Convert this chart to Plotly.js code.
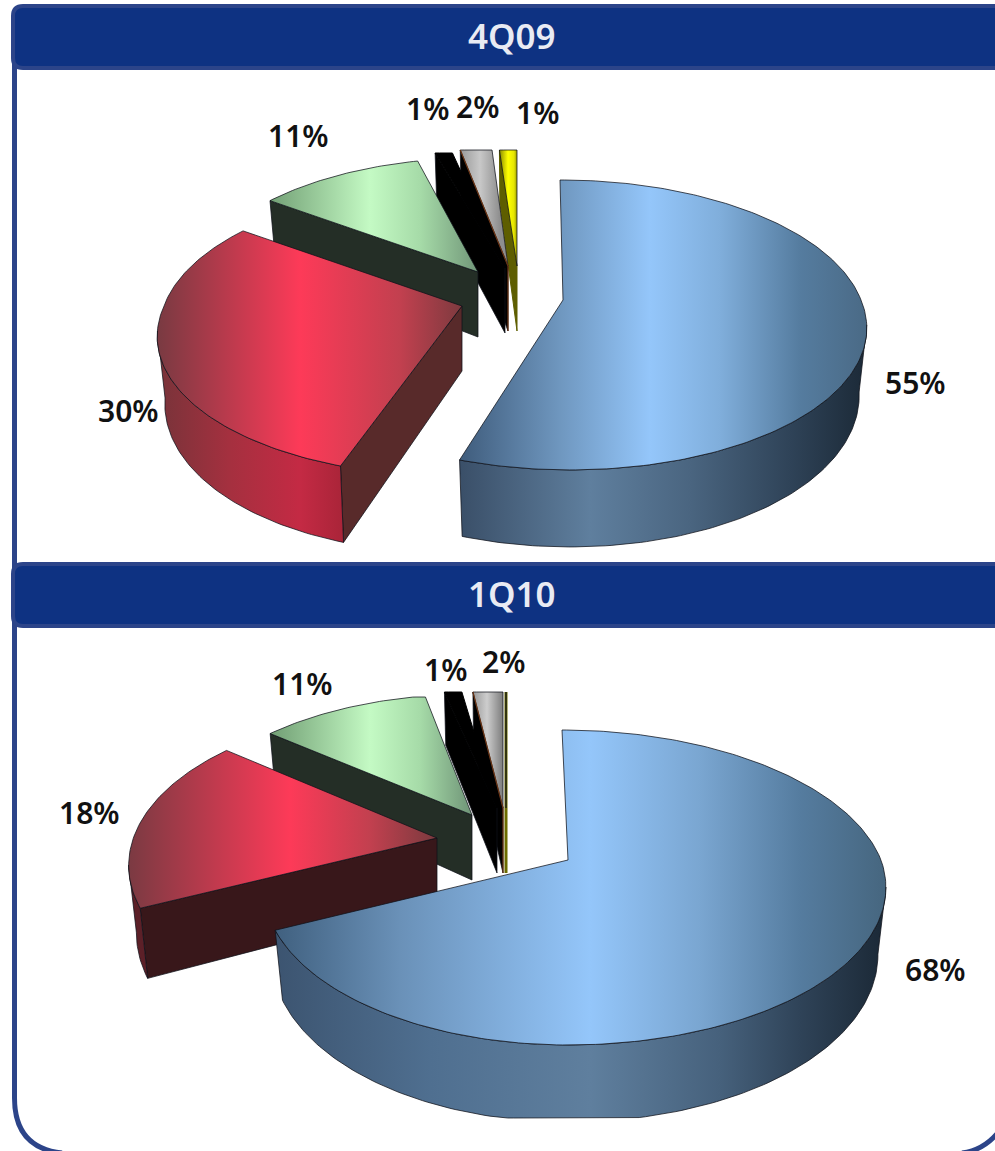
<!DOCTYPE html>
<html><head><meta charset="utf-8">
<script src="https://cdn.plot.ly/plotly-3.0.1.min.js"></script>
<style>html,body{margin:0;padding:0;background:#fff}#c{width:995px;height:1151px}</style>
</head><body><div id="c"></div>
<script>
// ---- data ----
const titles = ["4Q09", "1Q10"];
const values4Q09 = [55, 30, 11, 1, 2, 1];
const values1Q10 = [68, 18, 11, 1, 2, 0];

// ---- layout of the two drawings (pixel-like axis units) ----
const pie1 = {
  values: values4Q09, a: 298, b: 140.7, p: 0.172, yBottom: 2000,
  slices: [
    {apex:[563,300], r:1, top:180, skF:7, skB:3},
    {apex:[462,306], r:1, top:0, skF:-12},
    {apex:[478,272], r:.95, top:158},
    {apex:[505,268], r:1.1, top:153},
    {apex:[508,266], r:1, top:150},
    {apex:[517,266], r:1.1, top:150}
  ],
  labels: [[915,384],[128,412],[298,137],[427,110],[477,108],[537,114]],
  blueTop: [[460,'#3f5c7c'],[560,'#6f97bf'],[650,'#94c6fa'],[720,'#80aedb'],[800,'#557c9f'],[866,'#4a6a86']],
  blueWall:[[460,'#3a4f68'],[590,'#5f7f9e'],[690,'#4a6580'],[790,'#2f4358'],[865,'#1c2a38']],
  redTop:  [[160,'#7b3a42'],[300,'#fd3a58'],[400,'#c2404f'],[465,'#7a3a3e']],
  redWall: [[165,'#7c333a'],[230,'#a5303f'],[300,'#c42a44'],[345,'#a82438']],
  greenTop:[[265,'#6f9c72'],[370,'#c4fac4'],[420,'#a6dba8'],[480,'#6f9477']],
  grayTop: [[460,'#999999'],[480,'#c8c8c8'],[500,'#8e8e8e']],
  yellowTop:[[497,'#6b6b00'],[508,'#ffff00'],[514,'#e6e600'],[519,'#6b6b00']]
};
const pie2 = {
  values: values1Q10, a: 313, b: 152.7, p: 0.1746, yBottom: 1118,
  slices: [
    {apex:[568,860], r:1, top:730, xl:.957, skB:6},
    {apex:[437,838], r:1, top:0, xl:.97},
    {apex:[472,815], r:.93, top:697},
    {apex:[497,808], r:1.05, top:692},
    {apex:[503,808], r:.9, top:692},
    {apex:[506,808], r:1, top:692}
  ],
  labels: [[935,971],[89,814],[302,685],[445,671],[503,663]],
  blueTop: [[275,'#40607f'],[400,'#6a91b8'],[590,'#94c6fa'],[700,'#7aa6d1'],[800,'#557c9f'],[886,'#46667f']],
  blueWall:[[275,'#3c5470'],[430,'#4f6f90'],[590,'#5f7f9e'],[720,'#46617c'],[800,'#2f4358'],[880,'#1c2a38']],
  redTop:  [[128,'#7a3a42'],[290,'#fd3a58'],[370,'#c2404f'],[437,'#7a3a3e']],
  redWall: [[130,'#5c2028'],[150,'#5c2028']],
  greenTop:[[268,'#6f9c72'],[370,'#c4fac4'],[420,'#a6dba8'],[472,'#6f9477']],
  grayTop: [[470,'#8f8f8f'],[487,'#cdcdcd'],[504,'#777777']],
  yellowTop:[[504,'#7b7b00'],[508,'#7b7b00']]
};
const headerBars = [[6,68],[564,626]];
const headerColor = '#0e3282', frameColor = '#2c4489';
const wallColors = ['#000', '#582a2a', '#242e26', '#000', '#000', '#5e5e00'];
const wallColors2 = ['#000', '#38171a', '#242e26', '#000', '#000', '#6b6b00'];
const depthMid = 65, depthSlope = 12, bottomShrink = 0.975;
const edge = 'rgba(15,18,25,0.75)';

function grad(stops){
  const x0 = stops[0][0], x1 = stops[stops.length-1][0];
  return {type:'horizontal', start:x0, stop:x1,
          colorscale: stops.map(s => [(s[0]-x0)/(x1-x0), s[1]])};
}
function project(pie, s, thetaDeg){
  const t = thetaDeg*Math.PI/180;
  const u = Math.sin(t), v = -Math.cos(t), w = 1 - pie.p*v;
  const xl = u<0 && s.xl ? s.xl : 1;
  const sk = (v<0 ? (s.skB||0) : (s.skF||0))*v;
  return {x: s.apex[0] + xl*s.r*pie.a*u/w + sk, y: s.apex[1] + s.r*pie.b*v/w, v};
}
function lowX(s, x){ return s.apex[0] + (x-s.apex[0])*bottomShrink; }
function clampY(pie, s, y){ return Math.min(pie.yBottom, Math.max(s.top, y)); }
function arc(pie, s, a0, a1){
  const pts = [], n = Math.max(2, Math.ceil(Math.abs(a1-a0)));
  for(let i=0;i<=n;i++) pts.push(project(pie, s, a0+(a1-a0)*i/n));
  return pts;
}
function poly(xs, ys, extra){
  return Object.assign({type:'scatter', mode:'lines', x:xs, y:ys, fill:'toself',
    line:{color:edge, width:1}, hoverinfo:'skip'}, extra);
}
const SIL0 = 99.9, SIL1 = 260.1;

function drawPie(pie, walls){
  const out = [];
  const total = pie.values.reduce((a,b)=>a+b,0);
  let acc = 0;
  const ranges = pie.values.map(val => { const r=[acc/total*360,(acc+val)/total*360]; acc+=val; return r; });
  const tops = [pie.blueTop, pie.redTop, pie.greenTop, null, pie.grayTop, pie.yellowTop];
  for(let i=pie.values.length-1;i>=0;i--){
    const s = pie.slices[i], [a0,a1] = ranges[i];
    const dep = v => depthMid + depthSlope*v;
    const ap = s.apex;
    // radial wall at the slice's starting angle
    if(Math.sin(a0*Math.PI/180) < -1e-6 || (a0>=355)){
      const P = project(pie, s, a0);
      out.push(poly(
        [ap[0], P.x, lowX(s,P.x), ap[0], ap[0]],
        [ap[1], clampY(pie,s,P.y), clampY(pie,s,P.y)+dep(P.v), ap[1]+dep(0), ap[1]],
        {fillcolor: walls[i], line:{color:i===5?walls[i]:edge, width:i===5&&pie.values[i]===0?3:1}}));
    }
    // outer curved wall
    const w0 = Math.max(a0,SIL0), w1 = Math.min(a1,SIL1);
    if(w1 > w0){
      const pts = arc(pie, s, w0, w1);
      const xs = pts.map(p=>p.x).concat(pts.slice().reverse().map(p=>lowX(s,p.x)));
      const ys = pts.map(p=>clampY(pie,s,p.y)).concat(
        pts.slice().reverse().map(p=>clampY(pie,s,p.y+dep(p.v))));
      xs.push(xs[0]); ys.push(ys[0]);
      out.push(poly(xs, ys, {fillgradient: grad(i===0?pie.blueWall:pie.redWall)}));
    }
    // top face
    const pts = arc(pie, s, a0, a1);
    const xs = [ap[0]].concat(pts.map(p=>p.x), [ap[0]]);
    const ys = [ap[1]].concat(pts.map(p=>clampY(pie,s,p.y)), [ap[1]]);
    if(tops[i]) out.push(poly(xs, ys, {fillgradient: grad(tops[i])}));
    else out.push(poly(xs, ys, {fillcolor:'#000', line:{color:'#000',width:1}}));
    // thin brown seam between the black and the gray slices
    if(i===4){
      const P = project(pie, s, a0);
      seams.push({type:'scatter', mode:'lines', hoverinfo:'skip',
        x:[P.x, ap[0], ap[0]], y:[clampY(pie,s,P.y), ap[1], ap[1]+dep(0)],
        line:{color:'#6a3312', width:1.2}});
    }
  }
  return out;
}
let seams = [];
let traces = [];
[[pie1,wallColors],[pie2,wallColors2]].forEach(([p,w])=>{
  seams = [];
  traces = traces.concat(drawPie(p,w), seams);
});

const labelFont = {family:'"Noto Sans", sans-serif', size:30, color:'#111', weight:600};
const annotations = [];
[pie1,pie2].forEach(pie=>{
  let k = 0;
  pie.values.forEach(v=>{
    if(v>0){
      const pos = pie.labels[k++];
      annotations.push({x:pos[0], y:pos[1], xref:'x', yref:'y', yshift:2, text:v+'%', showarrow:false,
        xanchor:'center', yanchor:'middle', font:labelFont});
    }
  });
});
titles.forEach((t,i)=>{
  annotations.push({x:512, y:(headerBars[i][0]+headerBars[i][1])/2, xref:'x', yref:'y', yshift:2, text:t, showarrow:false,
    xanchor:'center', yanchor:'middle',
    font:{family:'"Noto Sans", sans-serif', size:35, color:'#e9ebf3', weight:600}});
});

const framePath = 'M14.5,60 L14.5,1098 Q14.5,1148 62,1153';
const frameRight = 'M962,1153 Q985,1150 1000,1130';
function barPath(y0,y1){
  const r=10, x0=13, x1=1010;
  return `M${x0+r},${y0} L${x1},${y0} L${x1},${y1} L${x0+r},${y1} Q${x0},${y1} ${x0},${y1-r} L${x0},${y0+r} Q${x0},${y0} ${x0+r},${y0} Z`;
}
const shapes = [
  {type:'path', path:framePath, line:{color:frameColor,width:5}, layer:'below'},
  {type:'path', path:frameRight, line:{color:frameColor,width:5}, layer:'below'}
].concat(headerBars.map(b=>({type:'path', path:barPath(b[0],b[1]),
  fillcolor:headerColor, line:{color:frameColor,width:4}, layer:'above'})));

Plotly.newPlot('c', traces, {
  width:995, height:1151, margin:{l:0,r:0,t:0,b:0},
  paper_bgcolor:'#fff', plot_bgcolor:'#fff', showlegend:false, hovermode:false,
  xaxis:{range:[0,995], visible:false, fixedrange:true},
  yaxis:{range:[1151,0], visible:false, fixedrange:true},
  shapes, annotations
}, {displayModeBar:false, staticPlot:true});
</script></body></html>
